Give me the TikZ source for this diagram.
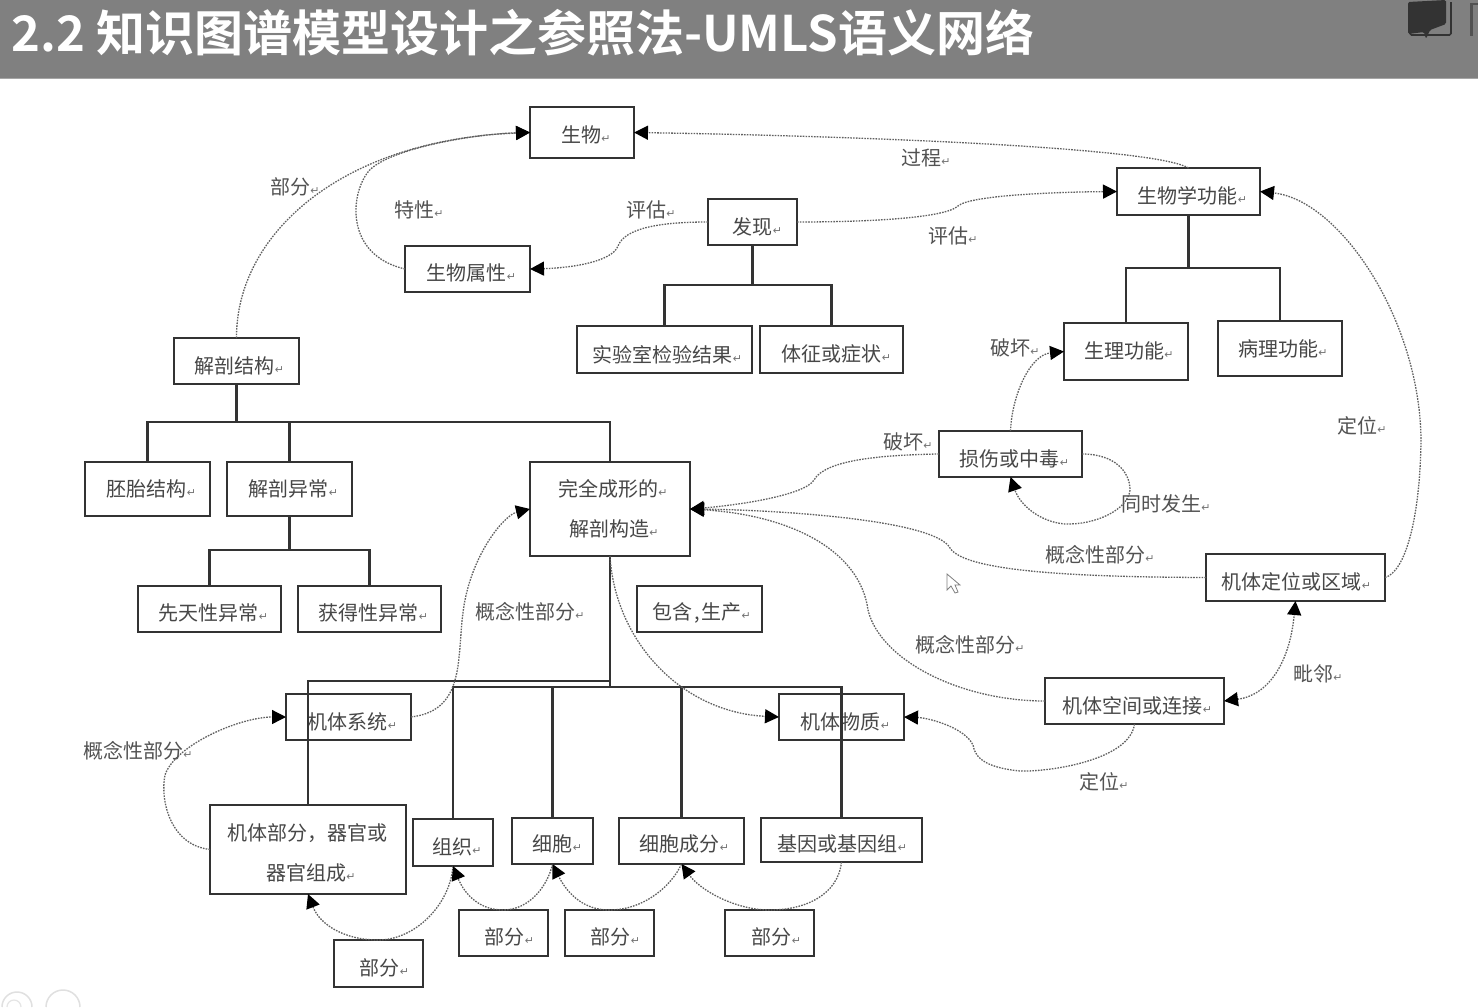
\documentclass[tikz,border=0pt]{standalone}
\usepackage{fontspec}
\setmainfont{Noto Sans CJK SC}
\newfontfamily\titlefont[BoldFont={Noto Sans CJK SC Bold}]{Noto Sans CJK SC}
\newfontfamily\markfont{DejaVu Sans}
\usetikzlibrary{arrows.meta,calc}
\newcommand{\rtn}{{\markfont\fontsize{11}{11}\selectfont\textcolor{black!55}{↵}}}
% \tx{twice the x shift}{y shift}{text}: moves a text inside its box
\newcommand{\tx}[3]{\raisebox{-#2pt}[\height][\depth]{\hspace*{#1pt}#3}}
\definecolor{hdr}{HTML}{808080}
\definecolor{ink}{HTML}{333333}
\tikzset{
 box/.style={draw=ink,line width=1.9pt,inner sep=0pt,outer sep=0pt,anchor=north west,align=center,
   text=black!72,font=\fontsize{20}{40}\selectfont},
 lab/.style={inner sep=0pt,text=black!68,font=\fontsize{20}{24}\selectfont},
 tree/.style={draw=ink,line width=2.2pt},
 rel/.style={draw=black!62,line width=1.3pt,dash pattern=on 1.6pt off 1.2pt},
 hd/.style={-{Triangle[length=14pt,width=14pt,fill=black,color=black]}},
 hdb/.style={{Triangle[length=14pt,width=14pt,fill=black,color=black]}-{Triangle[length=14pt,width=14pt,fill=black,color=black]}}
}
\begin{document}
\begin{tikzpicture}[x=1pt,y=-1pt]
\useasboundingbox (0,0) rectangle (1478,1007);
\fill[white] (0,0) rectangle (1478,1007);
% header
\fill[hdr] (0,0) rectangle (1478,78);
\draw[black!35,line width=1pt] (0,78.5) -- (1478,78.5);
\node[anchor=base west,inner sep=0pt,text=white,font=\titlefont\bfseries\fontsize{49}{52}\selectfont] (title) at (11,51) {2.2 知识图谱模型设计之参照法-UMLS语义网络};
\draw[ink,line width=1.6pt,rounded corners=1.5pt] (1410,33) -- (1410,35) -- (1451,35) -- (1451,2);
\fill[ink,rounded corners=1.5pt] (1408,2) -- (1446,0) -- (1446,24) -- (1430,30) -- (1426,39) -- (1424,32) -- (1408,34) -- cycle;
\fill[ink!85] (1470,3) rectangle (1472.5,36);
\draw[ink!85,line width=1.2pt] (1472,4) -- (1478,4);
% bottom-corner traces
\draw[black!12,line width=1.5pt] (2,1007) arc[start angle=180,end angle=360,radius=15];
\draw[black!10,line width=1.2pt] (7,1007) arc[start angle=180,end angle=360,radius=7];
\draw[black!12,line width=1.5pt] (46,1007) arc[start angle=180,end angle=360,radius=17];
% boxes
\node[box,minimum width=104pt,minimum height=51pt] (sw) at (530,107) {\tx{8}{2}{生物\rtn}};
\node[box,minimum width=143pt,minimum height=47pt] (swx) at (1117,168) {\tx{8}{4}{生物学功能\rtn}};
\node[box,minimum width=89pt,minimum height=46pt] (fx) at (708,199) {\tx{10}{5}{发现\rtn}};
\node[box,minimum width=125pt,minimum height=46pt] (swsx) at (405,246) {\tx{8}{4}{生物属性\rtn}};
\node[box,minimum width=175pt,minimum height=47pt] (sys) at (577,326) {\tx{6}{5}{实验室检验结果\rtn}};
\node[box,minimum width=143pt,minimum height=47pt] (tz) at (760,326) {\tx{10}{4}{体征或症状\rtn}};
\node[box,minimum width=124pt,minimum height=57pt] (slgn) at (1064,323) {\tx{6}{-1}{生理功能\rtn}};
\node[box,minimum width=124pt,minimum height=55pt] (blgn) at (1218,321) {\tx{6}{0}{病理功能\rtn}};
\node[box,minimum width=125pt,minimum height=46pt] (jpjg) at (174,338) {\tx{6}{5}{解剖结构\rtn}};
\node[box,minimum width=125pt,minimum height=54pt] (pt) at (85,462) {\tx{8}{0}{胚胎结构\rtn}};
\node[box,minimum width=125pt,minimum height=54pt] (jpyc) at (227,462) {\tx{8}{0}{解剖异常\rtn}};
\node[box,minimum width=160pt,minimum height=94pt] (wq) at (530,462) {\tx{6}{0}{完全成形的\rtn}\\\tx{8}{0}{解剖构造\rtn}};
\node[box,minimum width=143pt,minimum height=46pt] (ss) at (939,431) {\tx{8}{5}{损伤或中毒\rtn}};
\node[box,minimum width=179pt,minimum height=47pt] (dw) at (1206,554) {\tx{2}{4}{机体定位或区域\rtn}};
\node[box,minimum width=143pt,minimum height=46pt] (xt) at (138,586) {\tx{8}{4}{先天性异常\rtn}};
\node[box,minimum width=143pt,minimum height=46pt] (hd) at (298,586) {\tx{8}{4}{获得性异常\rtn}};
\node[box,minimum width=125pt,minimum height=46pt] (bh) at (637,586) {\tx{4}{4}{包含\hspace{2pt},\hspace{2pt}生产\rtn}};
\node[box,minimum width=125pt,minimum height=46pt] (xtong) at (286,694) {\tx{8}{5}{机体系统\rtn}};
\node[box,minimum width=125pt,minimum height=46pt] (wz) at (779,694) {\tx{8}{5}{机体物质\rtn}};
\node[box,minimum width=179pt,minimum height=46pt] (kj) at (1045,678) {\tx{6}{5}{机体空间或连接\rtn}};
\node[box,minimum width=196pt,minimum height=89pt] (bf) at (210,805) {\tx{-2}{3}{机体部分，器官或}\\\tx{6}{3}{器官组成\rtn}};
\node[box,minimum width=80pt,minimum height=47pt] (zz) at (413,819) {\tx{8}{4}{组织\rtn}};
\node[box,minimum width=81pt,minimum height=46pt] (xb) at (512,818) {\tx{10}{3}{细胞\rtn}};
\node[box,minimum width=125pt,minimum height=46pt] (cf) at (619,818) {\tx{6}{3}{细胞成分\rtn}};
\node[box,minimum width=161pt,minimum height=44pt] (jy) at (761,818) {\tx{2}{4}{基因或基因组\rtn}};
\node[box,minimum width=89pt,minimum height=46pt] (p1) at (459,910) {\tx{12}{4}{部分\rtn}};
\node[box,minimum width=89pt,minimum height=46pt] (p2) at (565,910) {\tx{12}{4}{部分\rtn}};
\node[box,minimum width=89pt,minimum height=46pt] (p3) at (725,910) {\tx{14}{4}{部分\rtn}};
\node[box,minimum width=89pt,minimum height=47pt] (p0) at (334,940) {\tx{12}{4}{部分\rtn}};
% labels
\node[lab] (l1) at (295,187) {部分\rtn};
\node[lab] (l2) at (419,210) {特性\rtn};
\node[lab] (l3) at (651,210) {评估\rtn};
\node[lab] (l4) at (926,158) {过程\rtn};
\node[lab] (l5) at (953,236) {评估\rtn};
\node[lab] (l6) at (1015,348) {破坏\rtn};
\node[lab] (l7) at (908,442) {破坏\rtn};
\node[lab] (l8) at (1362,426) {定位\rtn};
\node[lab] (l9) at (1166,504) {同时发生\rtn};
\node[lab] (l10) at (1100,555) {概念性部分\rtn};
\node[lab] (l11) at (970,645) {概念性部分\rtn};
\node[lab] (l12) at (530,612) {概念性部分\rtn};
\node[lab] (l13) at (1318,674) {毗邻\rtn};
\node[lab] (l14) at (1104,782) {定位\rtn};
\node[lab] (l15) at (138,751) {概念性部分\rtn};
% trees
\coordinate (j1) at (236.5,422);
\draw[tree] (jpjg.south) -- (j1);
\draw[tree] (pt.north) |- (j1) -| (wq.north);
\draw[tree] (j1) -| (jpyc.north);
\coordinate (j2) at (289.5,550);
\draw[tree] (jpyc.south) -- (j2);
\draw[tree] (xt.north) |- (j2) -| (hd.north);
\coordinate (j3) at (752.5,285);
\draw[tree] (fx.south) -- (j3);
\draw[tree] (sys.north) |- (j3) -| (tz.north);
\coordinate (j4) at (1188.5,268);
\draw[tree] (swx.south) -- (j4);
\draw[tree] (slgn.north) |- (j4) -| (blgn.north);
\coordinate (j5) at (610,681);
\coordinate (j6) at (610,687);
\draw[tree] (wq.south) -- (j6);
\draw[tree] (j5) -| (bf.north);
\draw[tree] (zz.north) |- (j6) -| (jy.north);
\draw[tree] (j6) -| (xb.north);
\draw[tree] (j6) -| (cf.north);
% relations
\draw[rel,hd] (jpjg.north) .. controls (236,235) and (340,140) .. (sw.west);
\draw[rel,hd] (swsx.west) .. controls (345,255) and (350,195) .. (368,172) .. controls (385,150) and (470,134) .. (sw.west);
\draw[rel,hd] (swx.north) .. controls (1150,145) and (800,135) .. (sw.east);
\draw[rel,hd] (fx.west) .. controls (660,222) and (625,228) .. (618,246) .. controls (612,262) and (570,268) .. (swsx.east);
\draw[rel,hd] (fx.east) .. controls (870,222) and (945,218) .. (958,206) .. controls (970,195) and (1060,192) .. (swx.west);
\draw[rel,hd] (ss.north) .. controls (1012,395) and (1030,355) .. (slgn.west);
\draw[rel,hd] (ss.west) .. controls (880,455) and (825,460) .. (814,480) .. controls (805,495) and (740,505) .. (wq.east);
\draw[rel,hd] (ss.east) .. controls (1115,454) and (1130,472) .. (1130,490) .. controls (1128,510) and (1095,525) .. (1065,524) .. controls (1040,522) and (1020,505) .. (ss.south);
\draw[rel,hd] (dw.west) .. controls (1080,577) and (965,572) .. (950,548) .. controls (935,520) and (780,510) .. (wq.east);
\draw[rel,hd] (kj.west) .. controls (960,701) and (880,660) .. (868,610) .. controls (860,550) and (790,515) .. (wq.east);
\draw[rel,hd] (dw.east) .. controls (1405,572) and (1420,520) .. (1421,440) .. controls (1420,320) and (1340,200) .. (swx.east);
\draw[rel,hdb] (kj.east) .. controls (1270,695) and (1290,660) .. (dw.south);
\draw[rel,hd] (kj.south) .. controls (1130,760) and (1050,772) .. (1020,771) .. controls (990,768) and (975,760) .. (973,745) .. controls (965,728) and (930,718) .. (wz.east);
\draw[rel,hd] (wq.south) .. controls (615,640) and (680,712) .. (wz.west);
\draw[rel,hd] (xtong.east) .. controls (470,710) and (455,650) .. (465,600) .. controls (475,550) and (505,515) .. (wq.west);
\draw[rel,hd] (bf.west) .. controls (170,845) and (160,800) .. (165,775) .. controls (175,745) and (240,717) .. (xtong.west);
\draw[rel,hd] (zz.south) .. controls (450,905) and (415,940) .. (378,940) .. controls (345,940) and (320,925) .. (bf.south);
\draw[rel,hd] (xb.south) .. controls (548,885) and (530,910) .. (503,910) .. controls (480,910) and (465,895) .. (zz.south);
\draw[rel,hd] (cf.south) .. controls (672,885) and (645,910) .. (609,910) .. controls (585,910) and (568,895) .. (xb.south);
\draw[rel,hd] (jy.south) .. controls (838,895) and (805,910) .. (770,910) .. controls (735,910) and (700,890) .. (cf.south);
% pointer
\draw[black!50,fill=white,line width=0.8pt] (947,574) -- (947,590) -- (951,586) -- (955,593) -- (958,592) -- (955,585) -- (960,585) -- cycle;
\end{tikzpicture}
\end{document}
